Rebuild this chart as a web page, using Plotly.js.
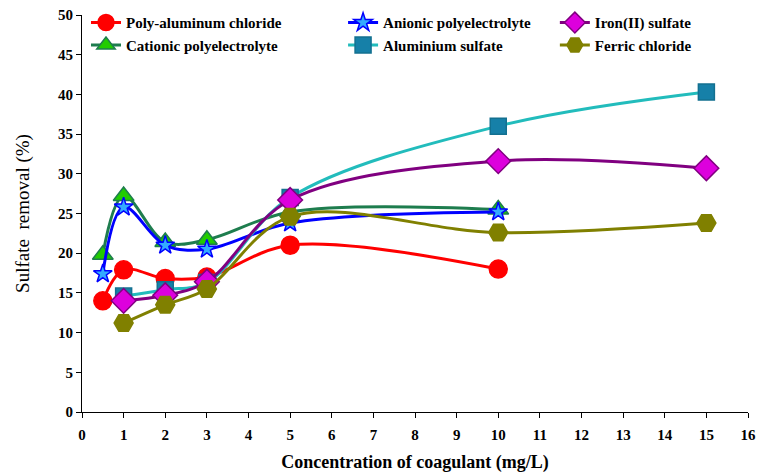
<!DOCTYPE html>
<html>
<head>
<meta charset="utf-8">
<script src="https://cdn.plot.ly/plotly-3.0.1.min.js"></script>
<style>html,body{margin:0;padding:0;background:#fff;}#chart{width:764px;height:473px;}</style>
</head>
<body>
<div id="chart"></div>
<script>
// Data
const pacX = [0.5, 1, 2, 3, 5, 10];
const pacY = [14.0, 17.9, 16.8, 17.0, 21.0, 18.0];
const catX = [0.5, 1, 2, 3, 5, 10];
const catY = [19.8, 27.2, 21.4, 21.7, 25.2, 25.5];
const aniX = [0.5, 1, 2, 3, 5, 10];
const aniY = [17.4, 25.8, 21.0, 20.5, 23.8, 25.2];
const ironX = [1, 2, 3, 5, 10, 15];
const ironY = [14.0, 14.7, 16.4, 26.7, 31.6, 30.7];
const alumX = [1, 2, 3, 5, 10, 15];
const alumY = [14.6, 15.4, 16.3, 27.0, 36.0, 40.3];
const ferX = [1, 2, 3, 5, 10, 15];
const ferY = [11.2, 13.5, 15.5, 24.6, 22.6, 23.8];

const xTicks = [0,1,2,3,4,5,6,7,8,9,10,11,12,13,14,15,16];
const yTicks = [0,5,10,15,20,25,30,35,40,45,50];

const serif = '"Liberation Serif", "Times New Roman", serif';

function tr(name, x, y, lineColor, sym, fill, edge, size, legend) {
  return {
    type: 'scatter', mode: 'lines+markers', name: name, x: x, y: y,
    line: {color: lineColor, width: 3, shape: 'spline', smoothing: 1},
    marker: {symbol: sym, color: fill, size: size, line: {color: edge, width: 1.5}},
    legend: legend
  };
}

const data = [
  tr('Poly-aluminum chloride', pacX, pacY, '#ff0000', 'circle', '#ff0000', '#ff0000', 18, 'legend'),
  tr('Cationic polyelectrolyte', catX, catY, '#1e7d4e', 'triangle-up', '#22cc00', '#1e7d4e', 18, 'legend'),
  tr('Anionic polyelectrolyte', aniX, aniY, '#0000ff', 'star', '#33aaff', '#0000ff', 14, 'legend2'),
  tr('Aluminium sulfate', alumX, alumY, '#22bcbc', 'square', '#1680a8', '#137090', 16, 'legend2'),
  tr('Iron(II) sulfate', ironX, ironY, '#800080', 'diamond', '#dd00dd', '#800080', 19, 'legend3'),
  tr('Ferric chloride', ferX, ferY, '#808000', 'hexagon2', '#808000', '#808000', 19, 'legend3')
];

const legFont = {family: serif, size: 15, color: '#000', weight: 'bold'};
function leg(x) {
  return {x: x, y: 1.022, xanchor: 'left', yanchor: 'top', orientation: 'v',
          bgcolor: 'rgba(0,0,0,0)', borderwidth: 0, font: legFont, tracegroupgap: 0};
}

const layout = {
  width: 764, height: 473,
  margin: {l: 82, r: 16, t: 15, b: 61, autoexpand: false},
  paper_bgcolor: '#fff', plot_bgcolor: '#fff',
  showlegend: true,
  legend: leg(0.006),
  legend2: leg(0.392),
  legend3: leg(0.71),
  xaxis: {
    range: [0, 16], tickvals: xTicks, ticktext: xTicks.map(String),
    showgrid: false, zeroline: false, showline: true, linecolor: '#000', linewidth: 1,
    ticks: 'outside', ticklen: 5, tickcolor: '#000', ticklabelstandoff: 4,
    tickfont: {family: serif, size: 15, color: '#000', weight: 'bold'},
    title: {text: 'Concentration of coagulant (mg/L)', font: {family: serif, size: 18, color: '#000', weight: 'bold'}, standoff: 14}
  },
  yaxis: {
    range: [0, 50], tickvals: yTicks, ticktext: yTicks.map(String),
    showgrid: false, zeroline: false, showline: true, linecolor: '#000', linewidth: 1,
    ticks: 'outside', ticklen: 5, tickcolor: '#000',
    tickfont: {family: serif, size: 15, color: '#000', weight: 'bold'},
    title: {text: 'Sulfate  removal (%)', font: {family: serif, size: 19, color: '#000'}, standoff: 23}
  }
};

Plotly.newPlot('chart', data, layout, {displayModeBar: false, staticPlot: true});
</script>
</body>
</html>
